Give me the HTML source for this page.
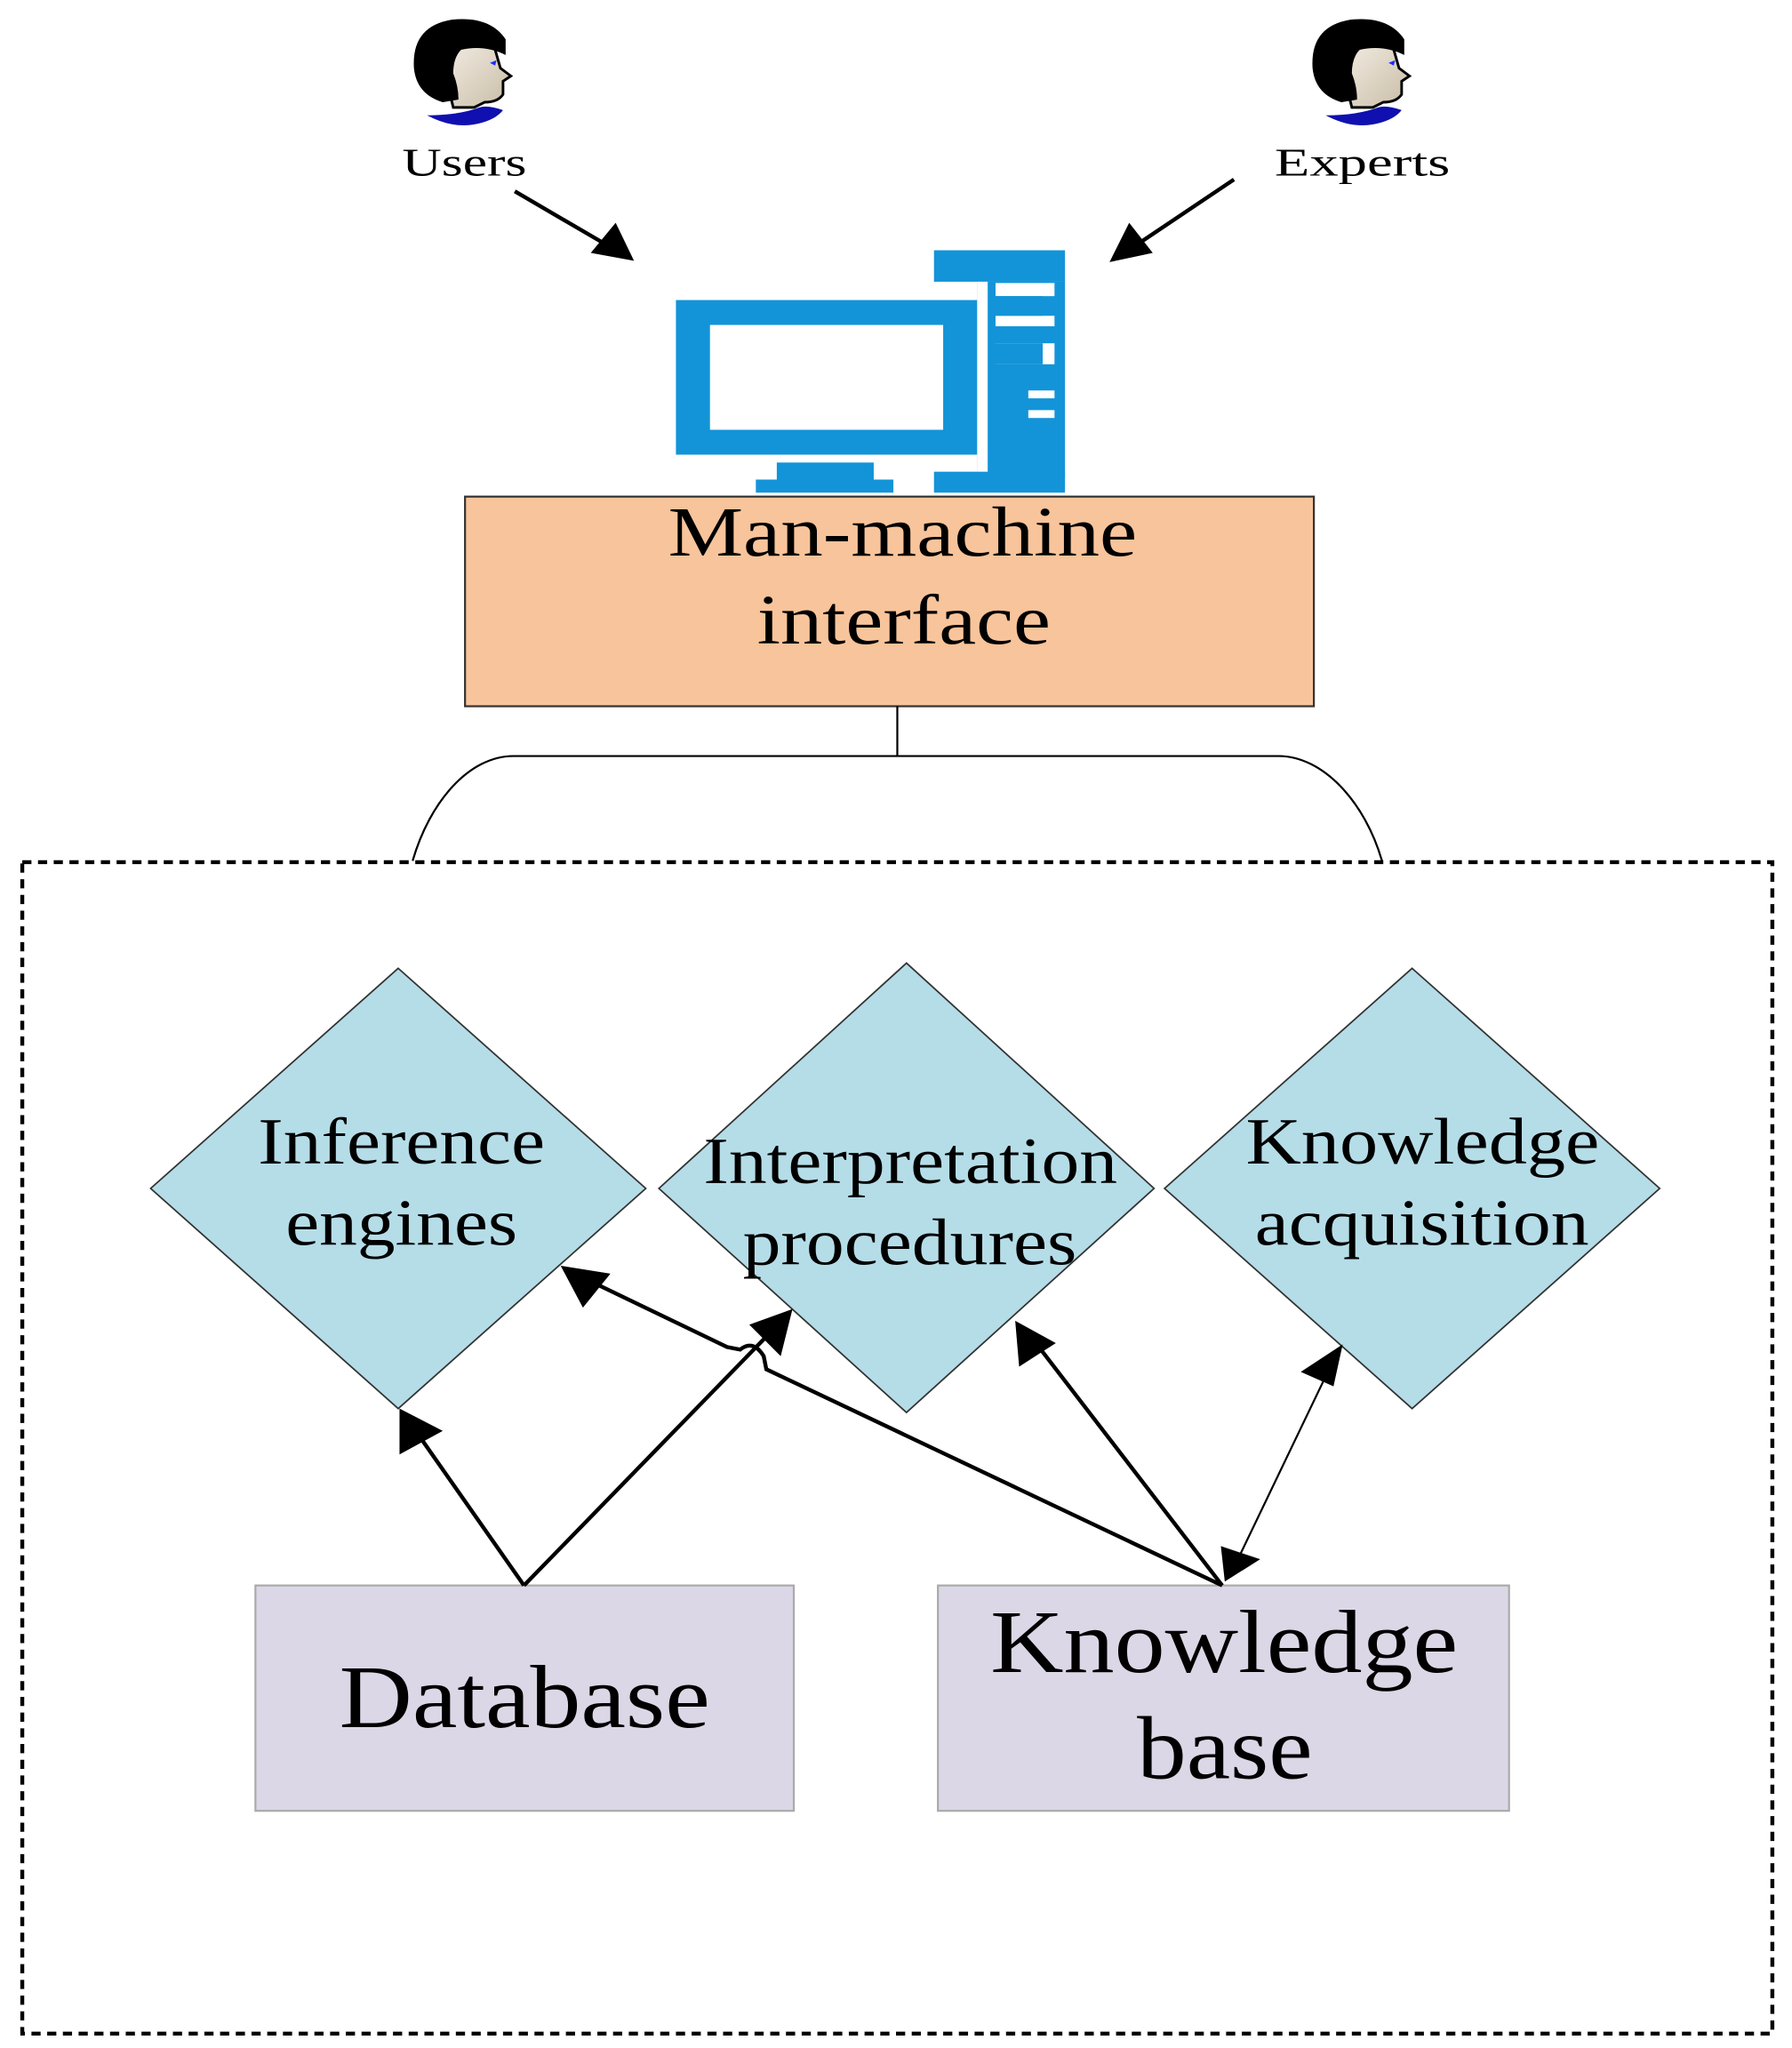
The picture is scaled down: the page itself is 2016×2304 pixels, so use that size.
<!DOCTYPE html>
<html><head><meta charset="utf-8"><style>
html,body{margin:0;padding:0;background:#fff;}
svg{display:block;}
text{font-family:"Liberation Serif",serif;fill:#000;}
</style></head><body>
<svg width="2016" height="2304" viewBox="0 0 1368 1563" preserveAspectRatio="none" xmlns="http://www.w3.org/2000/svg">
<defs>
<linearGradient id="skin" x1="0" y1="0" x2="1" y2="1"><stop offset="0" stop-color="#f4efe6"/><stop offset="1" stop-color="#c9bca6"/></linearGradient>
</defs>

<!-- heads -->
<g id="head">
<path d="M326,88 Q345,98 362,95 Q378,92 384,84 Q372,80 366,82 Q350,88 326,88Z" fill="#1010b0"/>
<path d="M338,60 Q336,42 350,32 Q368,28 378,38 L382,52 L390,58 L384,62 L384,72 Q380,78 370,78 L362,82 L346,82 Q344,72 338,60Z" fill="url(#skin)" stroke="#000" stroke-width="2"/>
<path d="M316,52 Q314,20 345,15 Q374,12 386,30 L386,42 Q370,34 352,38 Q346,44 346,56 Q350,66 350,76 L338,78 Q318,72 316,52Z" fill="#000"/>
<path d="M374,48 L379,46 L378,50Z" fill="#1a2cff"/>
</g>
<use href="#head" transform="translate(686,0)"/>
<text x="307" y="134" font-size="30" textLength="95" lengthAdjust="spacingAndGlyphs" fill="#333">Users</text>
<text x="973" y="134" font-size="30" textLength="134" lengthAdjust="spacingAndGlyphs" fill="#333">Experts</text>

<!-- arrows top -->
<line x1="393" y1="146" x2="465" y2="188" stroke="#000" stroke-width="3"/>
<polygon points="484,199 451,193 470,170" fill="#000"/>
<line x1="942" y1="137" x2="866" y2="188" stroke="#000" stroke-width="3"/>
<polygon points="847,200 862,170 880,193" fill="#000"/>

<!-- computer -->
<g fill="#1394d8">
<rect x="516" y="229" width="230" height="118"/>
<rect x="593" y="353" width="74" height="15"/>
<rect x="577" y="366" width="105" height="10"/>
<rect x="713" y="191" width="100" height="24"/>
<rect x="746" y="215" width="67" height="150"/>
<rect x="713" y="360" width="100" height="16"/>
</g>
<rect x="542" y="248" width="178" height="80" fill="#fff"/>
<rect x="746" y="215" width="8" height="145" fill="#fff"/>
<rect x="760" y="216" width="45" height="10" fill="#fff"/>
<rect x="760" y="241" width="45" height="8" fill="#fff"/>
<rect x="760" y="262" width="45" height="16" fill="#fff"/>
<rect x="785" y="298" width="20" height="6" fill="#fff"/>
<rect x="785" y="313" width="20" height="6" fill="#fff"/>
<rect x="760" y="226" width="36" height="15" fill="#1394d8"/>
<rect x="760" y="262" width="36" height="16" fill="#1394d8"/>

<!-- man-machine box -->
<rect x="355" y="379" width="648" height="160" fill="#f8c49b" stroke="#333" stroke-width="1.5"/>
<text x="510" y="424" font-size="54" textLength="358" lengthAdjust="spacingAndGlyphs">Man-machine</text>
<text x="578" y="491" font-size="54" textLength="224" lengthAdjust="spacingAndGlyphs">interface</text>

<line x1="685" y1="539" x2="685" y2="577" stroke="#000" stroke-width="1.5"/>
<path d="M315,657 C328,612 358,577 392,577 L976,577 C1010,577 1042,612 1055,657" fill="none" stroke="#000" stroke-width="1.5"/>

<!-- dashed frame -->
<rect x="17" y="658" width="1336" height="894" fill="none" stroke="#000" stroke-width="3" stroke-dasharray="7,5"/>

<!-- diamonds -->
<g fill="#b5dde8" stroke="#333" stroke-width="1.2">
<polygon points="304,739 493,907 304,1075 115,907"/>
<polygon points="692,735 881,907 692,1078 503,907"/>
<polygon points="1078,739 1267,907 1078,1075 889,907"/>
</g>
<text x="197" y="888" font-size="50" textLength="219" lengthAdjust="spacingAndGlyphs">Inference</text>
<text x="218" y="950" font-size="50" textLength="177" lengthAdjust="spacingAndGlyphs">engines</text>
<text x="537" y="903" font-size="50" textLength="316" lengthAdjust="spacingAndGlyphs">Interpretation</text>
<text x="567" y="965" font-size="50" textLength="255" lengthAdjust="spacingAndGlyphs">procedures</text>
<text x="951" y="888" font-size="50" textLength="270" lengthAdjust="spacingAndGlyphs">Knowledge</text>
<text x="958" y="950" font-size="50" textLength="255" lengthAdjust="spacingAndGlyphs">acquisition</text>

<!-- bottom boxes -->
<rect x="195" y="1210" width="411" height="172" fill="#dcd7e6" stroke="#aaa" stroke-width="1.5"/>
<text x="259" y="1318" font-size="68" textLength="283" lengthAdjust="spacingAndGlyphs">Database</text>
<rect x="716" y="1210" width="436" height="172" fill="#dcd7e6" stroke="#aaa" stroke-width="1.5"/>
<text x="756" y="1276" font-size="68" textLength="357" lengthAdjust="spacingAndGlyphs">Knowledge</text>
<text x="868" y="1357" font-size="68" textLength="134" lengthAdjust="spacingAndGlyphs">base</text>

<!-- connectors -->
<g stroke="#000" stroke-width="3" fill="none">
<path d="M400,1210 L318,1093"/>
<path d="M400,1210 L588,1017"/>
<path d="M933,1210 L585,1045 L583,1035 Q575,1022 565,1030 L555,1028 L447,976"/>
<path d="M933,1210 L790,1024"/>
</g>
<line x1="945" y1="1190" x2="1017" y2="1040" stroke="#000" stroke-width="1.5"/>
<g fill="#000">
<polygon points="305,1075 305,1110 338,1092"/>
<polygon points="605,999 572,1011 596,1035"/>
<polygon points="428,966 445,998 466,972"/>
<polygon points="775,1008 778,1043 806,1025"/>
<polygon points="1025,1026 993,1047 1018,1058"/>
<polygon points="935,1207 932,1180 962,1190"/>
</g>
</svg>
</body></html>
